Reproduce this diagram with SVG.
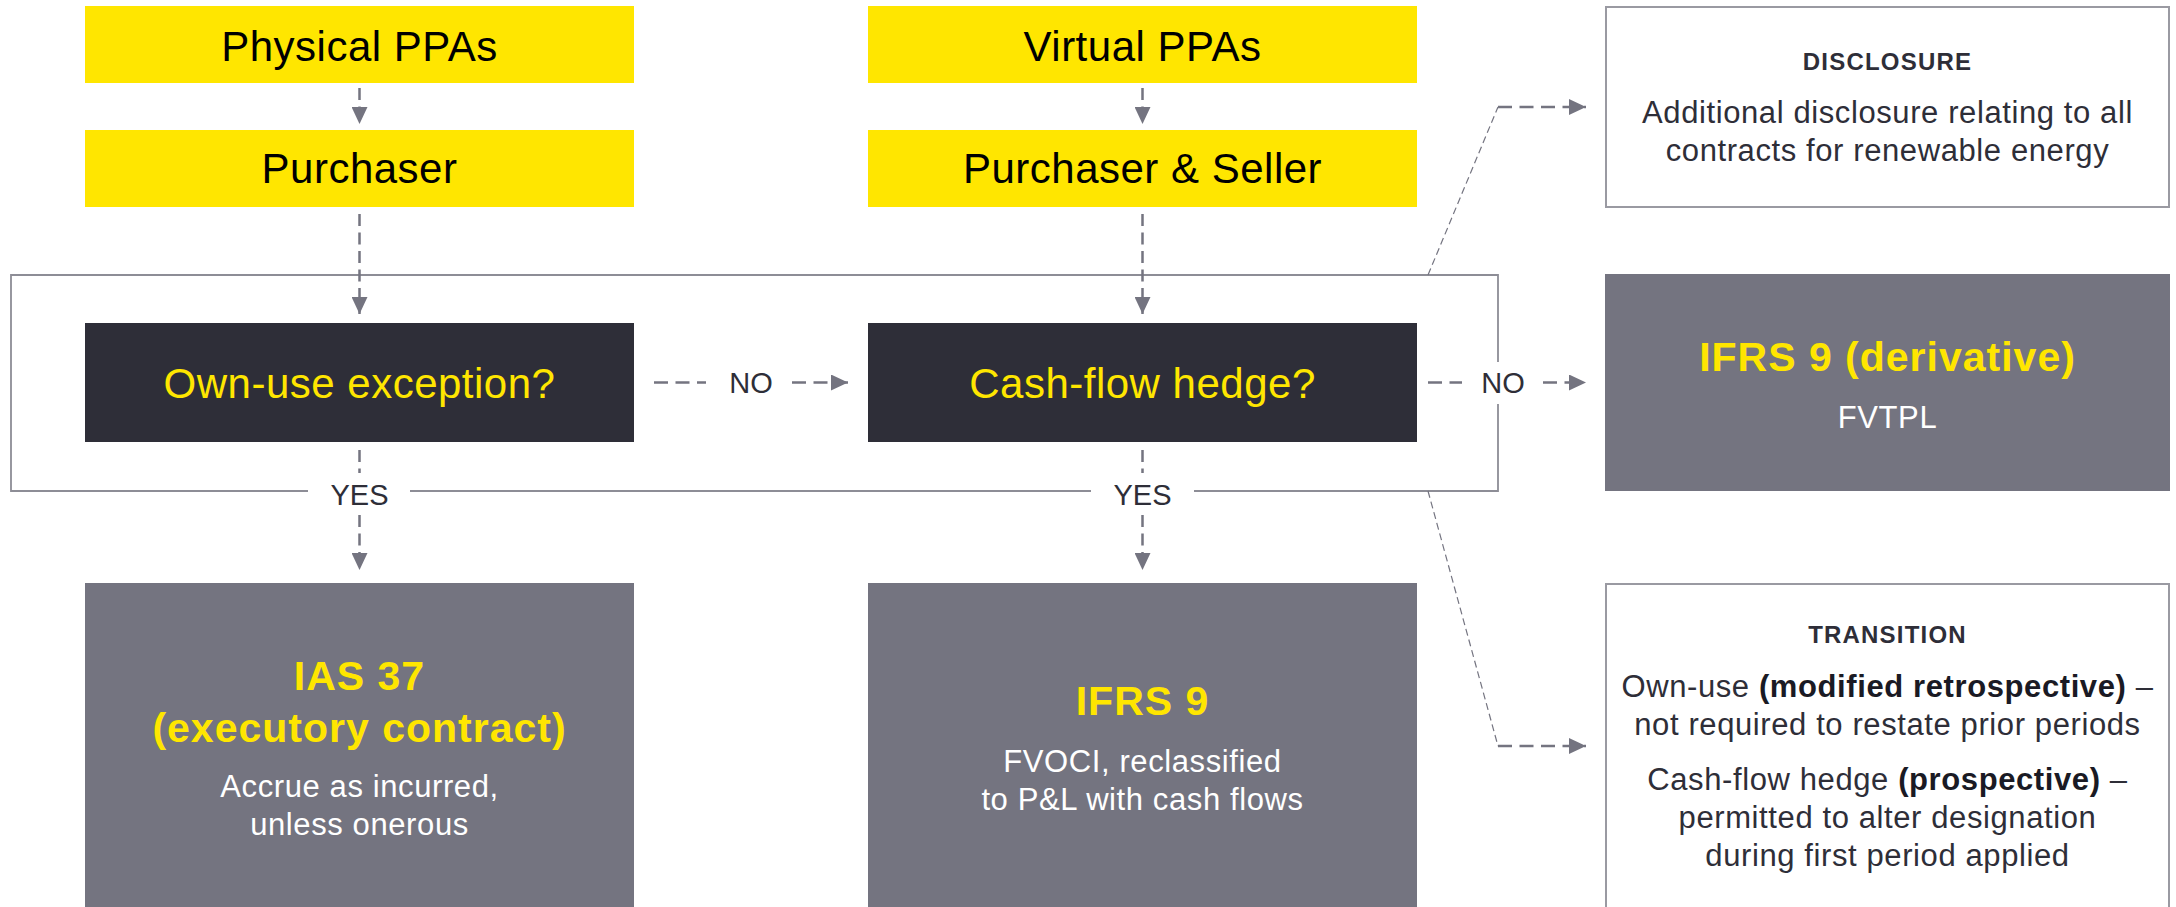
<svg xmlns="http://www.w3.org/2000/svg" width="2176" height="907" viewBox="0 0 2176 907">
  <style>
    .yel { fill: #FFE600; }
    .dark { fill: #2E2E38; }
    .grey { fill: #747480; }
    .wbox { fill: #FFFFFF; stroke: #9A9AA2; stroke-width: 2; }
    .frame { fill: none; stroke: #8D8D96; stroke-width: 1.8; }
    .t { font-family: "Liberation Sans", Arial, sans-serif; text-anchor: middle; }
    .head { font-size: 42px; fill: #000000; letter-spacing: 0.5px; }
    .q { font-size: 42px; fill: #FFE600; letter-spacing: 0.5px; }
    .bh { font-size: 41px; font-weight: bold; fill: #FFE600; letter-spacing: 1px; }
    .body { font-size: 31px; letter-spacing: 0.6px; }
    .wt { fill: #FFFFFF; }
    .dt { fill: #2E2E38; }
    .cap { font-size: 24px; font-weight: bold; fill: #2E2E38; letter-spacing: 1.2px; }
    .lbl { font-size: 29px; fill: #2E2E38; }
    .bold { font-weight: bold; fill: #1A1A24; }
    .dv { fill: none; stroke: #747480; stroke-width: 2.5; stroke-dasharray: 12 6.5; }
    .dh { fill: none; stroke: #747480; stroke-width: 2.5; stroke-dasharray: 14 7.5; }
    .thin { fill: none; stroke: #747480; stroke-width: 1.2; stroke-dasharray: 7 4; }
  </style>
  <defs>
    <marker id="arr" markerUnits="userSpaceOnUse" markerWidth="17" markerHeight="16" refX="17" refY="8" orient="auto">
      <path d="M0,0 L17,8 L0,16 Z" fill="#747480"/>
    </marker>
  </defs>

  <rect x="0" y="0" width="2176" height="907" fill="#FFFFFF"/>

  <g id="frame">
    <path class="frame" d="M308,491 H11 V275 H1498 V362 M1498,404 V491 H1194 M1091,491 H410"/>
  </g>

  <g id="connectors">
    <line class="dv" x1="359.5" y1="88" x2="359.5" y2="124" marker-end="url(#arr)"/>
    <line class="dv" x1="359.5" y1="214" x2="359.5" y2="314" marker-end="url(#arr)"/>
    <line class="dv" x1="1142.5" y1="88" x2="1142.5" y2="124" marker-end="url(#arr)"/>
    <line class="dv" x1="1142.5" y1="214" x2="1142.5" y2="314" marker-end="url(#arr)"/>
    <line class="dv" x1="359.5" y1="450" x2="359.5" y2="473"/>
    <line class="dv" x1="359.5" y1="515" x2="359.5" y2="570" marker-end="url(#arr)"/>
    <line class="dv" x1="1142.5" y1="450" x2="1142.5" y2="473"/>
    <line class="dv" x1="1142.5" y1="515" x2="1142.5" y2="570" marker-end="url(#arr)"/>
    <line class="dh" x1="654" y1="382.5" x2="706" y2="382.5"/>
    <line class="dh" x1="792" y1="382.5" x2="848" y2="382.5" marker-end="url(#arr)"/>
    <line class="dh" x1="1428" y1="382.5" x2="1462" y2="382.5"/>
    <line class="dh" x1="1543" y1="382.5" x2="1586" y2="382.5" marker-end="url(#arr)"/>
    <line class="thin" x1="1428" y1="275" x2="1498" y2="107"/>
    <line class="dh" x1="1498" y1="107" x2="1586" y2="107" marker-end="url(#arr)"/>
    <line class="thin" x1="1428" y1="491" x2="1498" y2="746"/>
    <line class="dh" x1="1498" y1="746" x2="1586" y2="746" marker-end="url(#arr)"/>
    <text class="t lbl" x="751" y="393">NO</text>
    <text class="t lbl" x="1503" y="393">NO</text>
    <text class="t lbl" x="359.5" y="505">YES</text>
    <text class="t lbl" x="1142.5" y="505">YES</text>
  </g>

  <g id="physical-ppas">
    <rect class="yel" x="85" y="6" width="549" height="77"/>
    <text class="t head" x="359.5" y="61">Physical PPAs</text>
  </g>
  <g id="purchaser">
    <rect class="yel" x="85" y="130" width="549" height="77"/>
    <text class="t head" x="359.5" y="183">Purchaser</text>
  </g>
  <g id="virtual-ppas">
    <rect class="yel" x="868" y="6" width="549" height="77"/>
    <text class="t head" x="1142.5" y="61">Virtual PPAs</text>
  </g>
  <g id="purchaser-seller">
    <rect class="yel" x="868" y="130" width="549" height="77"/>
    <text class="t head" x="1142.5" y="183">Purchaser &amp; Seller</text>
  </g>

  <g id="own-use">
    <rect class="dark" x="85" y="323" width="549" height="119"/>
    <text class="t q" x="359.5" y="398">Own-use exception?</text>
  </g>
  <g id="cash-flow-hedge">
    <rect class="dark" x="868" y="323" width="549" height="119"/>
    <text class="t q" x="1142.5" y="398">Cash-flow hedge?</text>
  </g>

  <g id="disclosure">
    <rect class="wbox" x="1606" y="7" width="563" height="200"/>
    <text class="t cap" x="1887.5" y="70">DISCLOSURE</text>
    <text class="t body dt" x="1887.5" y="123">Additional disclosure relating to all</text>
    <text class="t body dt" x="1887.5" y="161">contracts for renewable energy</text>
  </g>

  <g id="ifrs9-derivative">
    <rect class="grey" x="1605" y="274" width="565" height="217"/>
    <text class="t bh" x="1887.5" y="371">IFRS 9 (derivative)</text>
    <text class="t body wt" x="1887.5" y="428">FVTPL</text>
  </g>

  <g id="ias37">
    <rect class="grey" x="85" y="583" width="549" height="330"/>
    <text class="t bh" x="359.5" y="690">IAS 37</text>
    <text class="t bh" x="359.5" y="742">(executory contract)</text>
    <text class="t body wt" x="359.5" y="797">Accrue as incurred,</text>
    <text class="t body wt" x="359.5" y="835">unless onerous</text>
  </g>

  <g id="ifrs9">
    <rect class="grey" x="868" y="583" width="549" height="330"/>
    <text class="t bh" x="1142.5" y="715">IFRS 9</text>
    <text class="t body wt" x="1142.5" y="772">FVOCI, reclassified</text>
    <text class="t body wt" x="1142.5" y="810">to P&amp;L with cash flows</text>
  </g>

  <g id="transition">
    <rect class="wbox" x="1606" y="584" width="563" height="340"/>
    <text class="t cap" x="1887.5" y="643">TRANSITION</text>
    <text class="t body dt" x="1887.5" y="697">Own-use <tspan class="bold">(modified retrospective)</tspan> –</text>
    <text class="t body dt" x="1887.5" y="735">not required to restate prior periods</text>
    <text class="t body dt" x="1887.5" y="790">Cash-flow hedge <tspan class="bold">(prospective)</tspan> –</text>
    <text class="t body dt" x="1887.5" y="828">permitted to alter designation</text>
    <text class="t body dt" x="1887.5" y="866">during first period applied</text>
  </g>
</svg>
